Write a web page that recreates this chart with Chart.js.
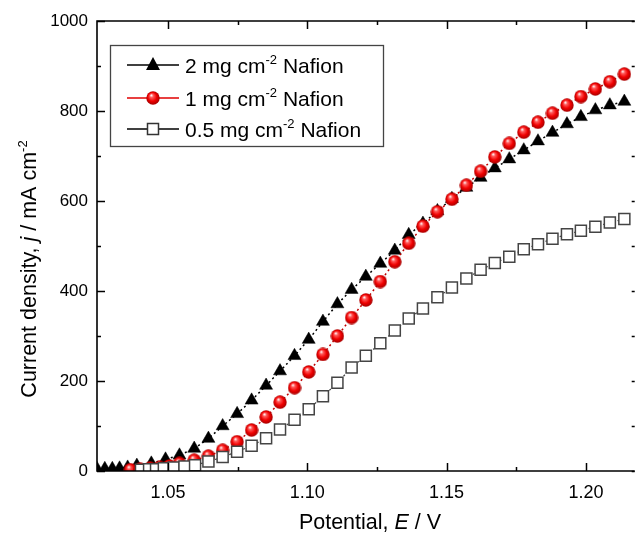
<!DOCTYPE html>
<html>
<head>
<meta charset="utf-8">
<script src="https://cdn.jsdelivr.net/npm/chart.js@4.4.0/dist/chart.umd.min.js"></script>
<style>
    html, body { margin: 0; padding: 0; background: #fff; }
    #wrap { width: 642px; height: 533px; }
</style>
</head>
<body>
<div id="wrap"><canvas id="chart" width="642" height="533"></canvas></div>
<script>
// 2 mg cm-2 Nafion (triangles)
const potential2 = [1.0245, 1.0273, 1.0300, 1.0326, 1.0355, 1.0388, 1.0440, 1.0491, 1.0541, 1.0594,
    1.0645, 1.0696, 1.0748, 1.0800, 1.0852, 1.0902, 1.0954, 1.1005, 1.1056, 1.1108,
    1.1159, 1.1210, 1.1262, 1.1314, 1.1364, 1.1415, 1.1467, 1.1519, 1.1571, 1.1622,
    1.1673, 1.1725, 1.1777, 1.1828, 1.1880, 1.1932, 1.1982, 1.2034, 1.2086, 1.2138];
const current2 = [5, 5, 5, 6, 8, 12, 17, 26, 35, 50,
    72, 100, 127, 157, 190, 222, 256, 292, 332, 371,
    403, 432, 461, 490, 525, 550, 578, 605, 630, 652,
    673, 693, 713, 733, 752, 771, 787, 802, 813, 821];

// 1 mg cm-2 Nafion (spheres)
const potential1 = [1.0365, 1.0400, 1.0435, 1.0470, 1.0505, 1.0541, 1.0594,
    1.0645, 1.0696, 1.0748, 1.0800, 1.0852, 1.0902, 1.0954, 1.1005, 1.1056, 1.1108,
    1.1159, 1.1210, 1.1262, 1.1314, 1.1364, 1.1415, 1.1467, 1.1519, 1.1571, 1.1622,
    1.1673, 1.1725, 1.1777, 1.1828, 1.1880, 1.1932, 1.1982, 1.2034, 1.2086, 1.2138];
const current1 = [3, 4, 6, 8, 11, 17, 24,
    33, 46, 65, 91, 120, 153, 185, 220, 259, 300,
    341, 380, 421, 465, 506, 544, 576, 604, 635, 666,
    698, 728, 753, 775, 795, 813, 832, 849, 865, 882];

// 0.5 mg cm-2 Nafion (open squares)
const potential05 = [1.0403, 1.0432, 1.0457, 1.0485, 1.0520, 1.0559, 1.0597,
    1.0645, 1.0696, 1.0748, 1.0800, 1.0852, 1.0902, 1.0954, 1.1005, 1.1056, 1.1108,
    1.1159, 1.1210, 1.1262, 1.1314, 1.1364, 1.1415, 1.1467, 1.1519, 1.1571, 1.1622,
    1.1673, 1.1725, 1.1777, 1.1828, 1.1880, 1.1932, 1.1982, 1.2034, 1.2086, 1.2138];
const current05 = [3, 4, 4, 6, 8, 10, 13,
    21, 31, 43, 56, 73, 92, 114, 137, 166, 196,
    230, 256, 284, 312, 339, 361, 386, 408, 428, 447,
    462, 476, 493, 504, 516, 526, 534, 543, 552, 560];

const xTicks = [1.05, 1.10, 1.15, 1.20];
const xMinorTicks = [1.075, 1.125, 1.175];
const yTicks = [0, 200, 400, 600, 800, 1000];
const yMinorTicks = [100, 300, 500, 700, 900];

const seriesNames = ["2 mg cm", "1 mg cm", "0.5 mg cm"];

const FAM = "'Liberation Sans', Arial, sans-serif";

function toPoints(xs, ys) {
    return xs.map((x, i) => ({ x: x, y: ys[i] }));
}

function makeSphere(d) {
    const c = document.createElement("canvas");
    c.width = d;
    c.height = d;
    const g = c.getContext("2d");
    const r = d / 2;
    const grad = g.createRadialGradient(r * 0.75, r * 0.6, r * 0.05, r, r, r);
    grad.addColorStop(0, "#fff2f2");
    grad.addColorStop(0.22, "#ff5a5a");
    grad.addColorStop(0.6, "#f00000");
    grad.addColorStop(1, "#a00000");
    g.fillStyle = grad;
    g.beginPath();
    g.arc(r, r, r - 0.3, 0, Math.PI * 2);
    g.fill();
    return c;
}

const sphere = makeSphere(14);

// draws text made of pieces (normal, italic, superscript), centred on x
function drawRich(ctx, parts, x, y, size) {
    const fontFor = p => (p.italic ? "italic " : "") + (p.sup ? Math.round(size * 0.62) : size) + "px " + FAM;
    let total = 0;
    parts.forEach(p => {
        ctx.font = fontFor(p);
        p.w = ctx.measureText(p.t).width;
        total += p.w;
    });
    let cx = x - total / 2;
    ctx.textBaseline = "alphabetic";
    ctx.textAlign = "left";
    parts.forEach(p => {
        ctx.font = fontFor(p);
        ctx.fillText(p.t, cx, p.sup ? y - size * 0.42 : y);
        cx += p.w;
    });
    return total;
}

const decor = {
    id: "decor",
    afterDraw(chart) {
        const ctx = chart.ctx;
        const a = chart.chartArea;
        const xs = chart.scales.x;
        const ys = chart.scales.y;
        ctx.save();
        ctx.strokeStyle = "#000";
        ctx.fillStyle = "#000";
        ctx.lineWidth = 1.6;
        ctx.beginPath();
        ctx.moveTo(a.right + 2, a.top);
        ctx.lineTo(a.left, a.top);
        ctx.lineTo(a.left, a.bottom);
        ctx.lineTo(a.right + 2, a.bottom);
        ctx.stroke();

        const tick = (list, len, vert) => {
            list.forEach(v => {
                ctx.beginPath();
                if (vert) {
                    const px = Math.round(xs.getPixelForValue(v)) + 0.5;
                    ctx.moveTo(px, a.bottom); ctx.lineTo(px, a.bottom - len);
                    ctx.moveTo(px, a.top); ctx.lineTo(px, a.top + len);
                } else {
                    const py = Math.round(ys.getPixelForValue(v)) + 0.5;
                    ctx.moveTo(a.left, py); ctx.lineTo(a.left + len, py);
                    // right axis sits just past the picture edge, only its tick tips show
                    ctx.moveTo(a.right + 2, py); ctx.lineTo(a.right - 1, py);
                }
                ctx.stroke();
            });
        };
        ctx.lineWidth = 1.5;
        tick(xTicks, 8, true);
        tick(xMinorTicks, 4, true);
        tick(yTicks, 8, false);
        tick(yMinorTicks, 4, false);

        // axis titles
        drawRich(ctx, [
            { t: "Potential, " }, { t: "E", italic: true }, { t: " / V" }
        ], 370, 529, 21.5);
        ctx.save();
        ctx.translate(36, 269);
        ctx.rotate(-Math.PI / 2);
        drawRich(ctx, [
            { t: "Current density, " }, { t: "j", italic: true }, { t: " / mA cm" }, { t: "-2", sup: true }
        ], 0, 0, 21.5);
        ctx.restore();

        // legend
        ctx.lineWidth = 1.3;
        ctx.strokeStyle = "#444";
        ctx.strokeRect(110.5, 45.5, 273, 101);
        const rows = [65, 98, 129];
        rows.forEach((ry, i) => {
            ctx.beginPath();
            ctx.lineWidth = 1.6;
            ctx.strokeStyle = i === 1 ? "#e00000" : "#000";
            ctx.moveTo(127, ry); ctx.lineTo(179, ry);
            ctx.stroke();
            const cx = 153;
            if (i === 0) {
                ctx.fillStyle = "#000";
                ctx.beginPath();
                ctx.moveTo(cx, ry - 8); ctx.lineTo(cx + 7, ry + 5); ctx.lineTo(cx - 7, ry + 5);
                ctx.closePath();
                ctx.fill();
            } else if (i === 1) {
                ctx.drawImage(sphere, cx - 7, ry - 7, 14, 14);
            } else {
                ctx.fillStyle = "#fff";
                ctx.strokeStyle = "#333";
                ctx.lineWidth = 1.5;
                ctx.fillRect(cx - 5.5, ry - 5.5, 11, 11);
                ctx.strokeRect(cx - 5.5, ry - 5.5, 11, 11);
            }
            ctx.fillStyle = "#000";
            const parts = [{ t: seriesNames[i] }, { t: "-2", sup: true }, { t: " Nafion" }];
            let w = 0;
            parts.forEach(p => {
                ctx.font = (p.sup ? 13 : 21) + "px " + FAM;
                w += ctx.measureText(p.t).width;
            });
            drawRich(ctx, parts, 185 + w / 2, ry + 7.5, 21);
        });
        ctx.restore();
    }
};

const ctx = document.getElementById("chart").getContext("2d");

new Chart(ctx, {
    type: "line",
    data: {
        datasets: [
            {
                label: "0.5 mg cm-2 Nafion",
                data: toPoints(potential05, current05),
                order: 1,
                borderColor: "#444",
                borderWidth: 1.2,
                borderDash: [2, 3],
                pointStyle: "rect",
                pointRadius: 7.8,
                pointBackgroundColor: "#fff",
                pointBorderColor: "#444",
                pointBorderWidth: 1.5
            },
            {
                label: "1 mg cm-2 Nafion",
                data: toPoints(potential1, current1),
                order: 2,
                borderColor: "#c00000",
                borderWidth: 1.5,
                borderDash: [2, 3],
                pointStyle: sphere,
                pointRadius: 7
            },
            {
                label: "2 mg cm-2 Nafion",
                data: toPoints(potential2, current2),
                order: 3,
                borderColor: "#000",
                borderWidth: 1.5,
                borderDash: [2, 3],
                pointStyle: "triangle",
                pointRadius: 7.5,
                pointBackgroundColor: "#000",
                pointBorderColor: "#000",
                pointBorderWidth: 0.5
            }
        ]
    },
    options: {
        responsive: false,
        animation: false,
        layout: { padding: { top: 21, right: 1, left: 0, bottom: 0 } },
        plugins: {
            legend: { display: false },
            tooltip: { enabled: false }
        },
        scales: {
            x: {
                type: "linear",
                min: 1.0245,
                max: 1.2168,
                grid: { display: false, drawTicks: false },
                border: { display: false },
                afterFit: scale => { scale.height = 62; },
                afterBuildTicks: scale => { scale.ticks = xTicks.map(v => ({ value: v })); },
                ticks: {
                    padding: 11,
                    color: "#000",
                    font: { family: FAM, size: 18 },
                    callback: v => Number(v).toFixed(2)
                }
            },
            y: {
                type: "linear",
                min: 0,
                max: 1000,
                grid: { display: false, drawTicks: false },
                border: { display: false },
                afterFit: scale => { scale.width = 97; },
                afterBuildTicks: scale => { scale.ticks = yTicks.map(v => ({ value: v })); },
                ticks: {
                    padding: 9,
                    color: "#000",
                    font: { family: FAM, size: 17 },
                    callback: v => String(v)
                }
            }
        }
    },
    plugins: [decor]
});
</script>
</body>
</html>
